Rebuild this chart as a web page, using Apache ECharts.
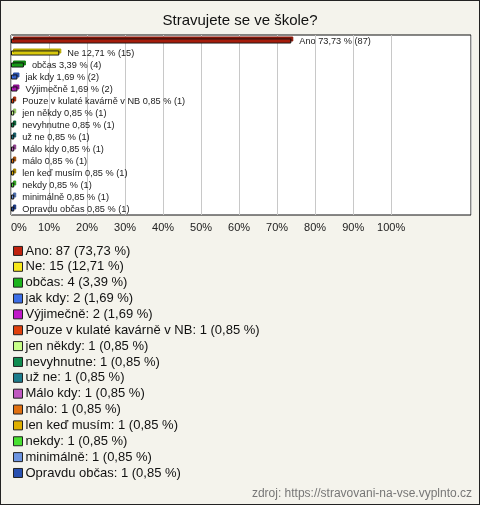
<!DOCTYPE html>
<html>
<head>
<meta charset="utf-8">
<script src="https://cdn.jsdelivr.net/npm/echarts@6/dist/echarts.min.js"></script>
<style>
html,body{margin:0;padding:0;background:#f4f3ec;}
#c{width:478px;height:503px;border:1px solid #222;}
</style>
</head>
<body>
<div id="c"></div>
<script>
const categories = ["Ano","Ne","občas","jak kdy","Výjimečně","Pouze v kulaté kavárně v NB","jen někdy","nevyhnutne","už ne","Málo kdy","málo","len keď musím","nekdy","minimálně","Opravdu občas"];
const counts = [87,15,4,2,2,1,1,1,1,1,1,1,1,1,1];
const percents = [73.73,12.71,3.39,1.69,1.69,0.85,0.85,0.85,0.85,0.85,0.85,0.85,0.85,0.85,0.85];
const colors = ["#c0220e","#f8e81a","#1cb41c","#3c6ee6","#c018c8","#e0400c","#c8ff88","#108c50","#1c7c8c","#c058c0","#e07010","#e0b000","#48e030","#6c94e0","#2850b0"];
const backColors = ["#8a1608","#b8a800","#128012","#2a50a8","#8a108e","#a02c08","#90c060","#0a6038","#145a66","#8a3e8a","#a04e08","#a07e00","#30a020","#4a6aa8","#1a3880"];
const xTicks = [0,10,20,30,40,50,60,70,80,90,100];

const fmt = v => v.toFixed(2).replace('.', ',');
const chart = echarts.init(document.getElementById('c'));

const series = categories.map((name, i) => ({
  name: name,
  type: 'bar',
  barWidth: 5,
  barGap: '-100%',
  data: categories.map((c, j) => j === i ? percents[i] : '-'),
  itemStyle: {
    color: colors[i],
    borderColor: '#111',
    borderWidth: 1,
    shadowColor: backColors[i],
    shadowOffsetX: 2,
    shadowOffsetY: -2,
    shadowBlur: 0
  },
  label: {
    show: true,
    position: 'right',
    distance: 8,
    fontSize: 9.2,
    fontFamily: 'Liberation Sans, Arial, sans-serif',
    color: '#222',
    formatter: () => name + ' ' + fmt(percents[i]) + ' % (' + counts[i] + ')'
  },
  emphasis: {disabled: true},
  animation: false
}));

const splitColors = xTicks.map(() => '#c8c8c8').concat(['rgba(0,0,0,0)','rgba(0,0,0,0)']);

chart.setOption({
  backgroundColor: '#f4f3ec',
  animation: false,
  textStyle: {fontFamily: 'Liberation Sans, Arial, sans-serif'},
  title: [{
    text: 'Stravujete se ve škole?',
    left: 'center',
    top: 7,
    textStyle: {fontSize: 15, fontWeight: 'normal', color: '#111', fontFamily: 'Liberation Sans, Arial, sans-serif'}
  }, {
    text: 'zdroj: https://stravovani-na-vse.vyplnto.cz',
    right: 7,
    bottom: 4,
    padding: 0,
    textStyle: {fontSize: 12, fontWeight: 'normal', color: '#777', fontFamily: 'Liberation Sans, Arial, sans-serif'}
  }],
  grid: {
    left: 10, right: 8, top: 34, bottom: 289,
    show: true, backgroundColor: '#fff', borderColor: '#111', borderWidth: 1
  },
  xAxis: {
    type: 'value',
    min: 0, max: 121, interval: 10,
    axisLine: {show: false},
    axisTick: {show: false},
    splitLine: {show: true, lineStyle: {color: splitColors, width: 1}},
    axisLabel: {
      fontSize: 11, color: '#222', margin: 7,
      alignMinLabel: 'left',
      formatter: v => v <= 100 ? v + '%' : ''
    }
  },
  yAxis: {
    type: 'category',
    data: categories,
    inverse: true,
    axisLine: {show: false},
    axisTick: {show: false},
    axisLabel: {show: false},
    splitLine: {show: false}
  },
  legend: {
    orient: 'vertical',
    left: 7,
    top: 237,
    itemWidth: 9,
    itemHeight: 9,
    itemGap: 0,
    icon: 'rect',
    selectedMode: false,
    itemStyle: {borderColor: '#222', borderWidth: 1, shadowColor: 'rgba(0,0,0,0)', shadowOffsetX: 0, shadowOffsetY: 0},
    textStyle: {fontSize: 13, color: '#111', lineHeight: 15.86, padding: [0,0,0,-2]},
    data: categories,
    formatter: name => {
      const i = categories.indexOf(name);
      return name + ': ' + counts[i] + ' (' + fmt(percents[i]) + ' %)';
    }
  },
  series: series
});
</script>
</body>
</html>
